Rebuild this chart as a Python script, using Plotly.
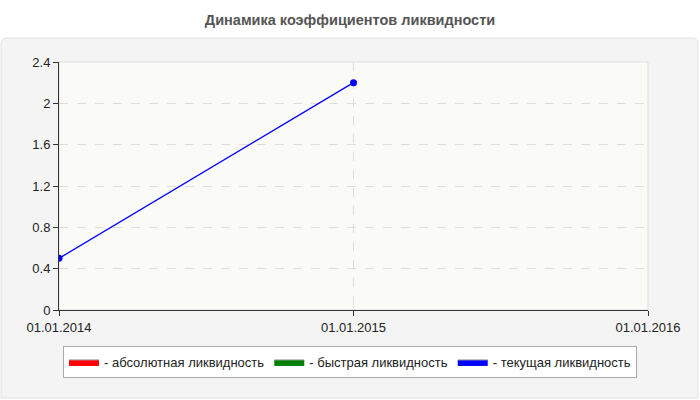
import plotly.graph_objects as go

# data
dates = ["2014-01-01", "2015-01-01"]
tick_dates = ["2014-01-01", "2015-01-01", "2016-01-01"]
tick_labels = ["01.01.2014", "01.01.2015", "01.01.2016"]
absolute_liq = [None, None]
quick_liq = [None, None]
current_liq = [0.5, 2.2]

series = [
    ("- абсолютная ликвидность", absolute_liq, "#ff0000"),
    ("- быстрая ликвидность", quick_liq, "#008000"),
    ("- текущая ликвидность", current_liq, "#0000ff"),
]

W, H = 700, 400
l, r, t, b = 59, 52, 62, 90
pw, ph = W - l - r, H - t - b


def px(x):
    return (x - l) / pw


def py(y):
    return (H - b - y) / ph


def pt(x, y):
    # page pixel -> pixel offset from the plot's bottom-left corner
    return f"{x - l},{H - b - y}"


fig = go.Figure()

for name, vals, color in series:
    fig.add_trace(go.Scatter(
        x=dates, y=vals, name=name, mode="lines+markers", showlegend=False,
        line=dict(color=color, width=1.3),
        marker=dict(color=color, size=7),
    ))
    # legend-only entry, drawn as a filled box like the original
    fig.add_trace(go.Scatter(
        x=[None], y=[None], name=name, mode="lines", fill="toself",
        fillcolor=color, line=dict(color="#999999", width=1),
    ))

# grey rounded panel behind the plot
x0, x1, y0, y1, rad = 1, 698, 38, 398, 6
panel = (f"M {pt(x0 + rad, y0)} L {pt(x1 - rad, y0)} Q {pt(x1, y0)} {pt(x1, y0 + rad)} "
         f"L {pt(x1, y1)} L {pt(x0, y1)} L {pt(x0, y0 + rad)} Q {pt(x0, y0)} {pt(x0 + rad, y0)} Z")
fig.add_shape(type="path", xref="x domain", yref="y domain", layer="below",
              xsizemode="pixel", ysizemode="pixel", xanchor=0, yanchor=0,
              path=panel, line=dict(color="#e2e2e2", width=1), fillcolor="#f4f4f4")
fig.add_shape(type="rect", xref="paper", yref="paper", layer="below",
              x0=0, x1=1, y0=0, y1=1,
              line=dict(color="#dddddd", width=1), fillcolor="#fafaf6")

fig.update_layout(
    width=W, height=H,
    margin=dict(l=l, r=r, t=t, b=b),
    paper_bgcolor="white",
    plot_bgcolor="rgba(0,0,0,0)",
    font=dict(family="Liberation Sans, Arial, sans-serif", size=13, color="#222222"),
    title=dict(text="<b>Динамика коэффициентов ликвидности</b>",
               x=0.5, xref="container", xanchor="center",
               y=1 - 20 / H, yref="container", yanchor="middle",
               font=dict(size=14.5, color="#555555")),
    showlegend=True,
    legend=dict(orientation="h", x=px(350), xanchor="center", y=py(346), yanchor="top",
                bgcolor="white", bordercolor="#aaaaaa", borderwidth=1,
                font=dict(size=13, color="#222222"), itemwidth=30,
                tracegroupgap=0),
    xaxis=dict(
        type="date", range=["2014-01-01", "2016-01-01"],
        tickvals=tick_dates, ticktext=tick_labels,
        showgrid=True, gridcolor="#dddddd", griddash="dash",
        showline=True, linecolor="#333333", linewidth=1,
        ticks="outside", ticklen=5, tickcolor="#333333",
        zeroline=False, fixedrange=True,
    ),
    yaxis=dict(
        range=[0, 2.4], dtick=0.4, tickformat="~g",
        showgrid=True, gridcolor="#dddddd", griddash="dash",
        showline=True, linecolor="#333333", linewidth=1,
        ticks="outside", ticklen=5, tickcolor="#333333",
        zeroline=False, fixedrange=True,
    ),
)

fig.write_html("out.html", config={"displayModeBar": False},
               post_script="document.body.style.margin='0';")
